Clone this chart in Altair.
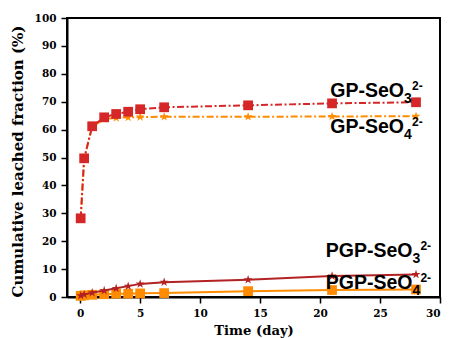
import altair as alt
import pandas as pd

# ---- data ----
days = [0.04, 0.33, 1, 2, 3, 4, 5, 7, 14, 21, 28]
gp_seo3 = [28.2, 49.7, 61.2, 64.4, 65.6, 66.4, 67.3, 68.0, 68.7, 69.4, 69.8]
gp_seo4 = [28.0, 49.5, 61.0, 63.8, 64.2, 64.4, 64.5, 64.6, 64.6, 64.7, 64.8]
pgp_seo3 = [0.5, 0.9, 1.5, 2.3, 3.1, 3.9, 4.7, 5.3, 6.2, 7.5, 8.1]
pgp_seo4 = [0.4, 0.6, 0.8, 1.0, 1.2, 1.2, 1.3, 1.4, 2.1, 2.5, 2.7]

series_names = ["GP-SeO3", "GP-SeO4", "PGP-SeO3", "PGP-SeO4"]
series_values = [gp_seo3, gp_seo4, pgp_seo3, pgp_seo4]

x_ticks = [0, 5, 10, 15, 20, 25, 30]
y_ticks = [0, 10, 20, 30, 40, 50, 60, 70, 80, 90, 100]

# annotation labels (main text, subscript, superscript)
label_main = ["GP-SeO", "GP-SeO", "PGP-SeO", "PGP-SeO"]
label_sub = ["3", "4", "3", "4"]
label_sup = ["2-", "2-", "2-", "2-"]
label_x = [27.0, 27.0, 27.7, 27.7]
label_y = [71.8, 58.7, 14.2, 2.9]

rows = []
for name, vals in zip(series_names, series_values):
    for d, v in zip(days, vals):
        rows.append({"series": name, "day": d, "value": v})
df = pd.DataFrame(rows)

labels = pd.DataFrame({"main": label_main, "sub": label_sub, "sup": label_sup,
                       "day": label_x, "value": label_y})

STAR = ("M0,-1L0.2234,-0.3074L0.9511,-0.309L0.3614,0.1174L0.5878,0.809L0,0.38"
        "L-0.5878,0.809L-0.3614,0.1174L-0.9511,-0.309L-0.2234,-0.3074Z")

x_enc = alt.X("day:Q",
              scale=alt.Scale(domain=[-1.1, 30], nice=False, zero=False),
              axis=alt.Axis(values=x_ticks, title="Time (day)", format="d", labelOverlap=False,
                            titleFontSize=13.2, titlePadding=6))
y_enc = alt.Y("value:Q",
              scale=alt.Scale(domain=[0, 100], nice=False),
              axis=alt.Axis(values=y_ticks, title="Cumulative leached fraction (%)", format="d",
                            labelOverlap=False, titleFontSize=15, titlePadding=9, titleY=143))

styles = {
    "GP-SeO4": dict(color="#ff8c00", shape=STAR, size=90, dash=[7, 2.5, 2, 2.5]),
    "GP-SeO3": dict(color="#d62728", shape="square", size=95, dash=[7, 2.5, 2, 2.5]),
    "PGP-SeO4": dict(color="#ff8c00", shape="square", size=95, dash=None),
    "PGP-SeO3": dict(color="#b22222", shape=STAR, size=90, dash=None),
}

layers = []
for name in ["GP-SeO4", "GP-SeO3", "PGP-SeO4", "PGP-SeO3"]:
    st = styles[name]
    base = alt.Chart(df).transform_filter(alt.datum.series == name)
    line_kwargs = dict(color=st["color"], strokeWidth=2, clip=False)
    if st["dash"] is not None:
        line_kwargs["strokeDash"] = st["dash"]
    layers.append(base.mark_line(**line_kwargs).encode(x=x_enc, y=y_enc))
    layers.append(base.mark_point(filled=True, shape=st["shape"], size=st["size"],
                                  color=st["color"], opacity=1, clip=False)
                  .encode(x=x_enc, y=y_enc))

lab = alt.Chart(labels)
txt_common = dict(font="Liberation Sans", fontWeight="bold", color="black", baseline="alphabetic")
layers.append(lab.mark_text(align="right", fontSize=19.5, **txt_common)
              .encode(x=x_enc, y=y_enc, text="main:N"))
layers.append(lab.mark_text(align="left", fontSize=14, dy=6, **txt_common)
              .encode(x=x_enc, y=y_enc, text="sub:N"))
layers.append(lab.mark_text(align="left", fontSize=12, dx=8, dy=-7, **txt_common)
              .encode(x=x_enc, y=y_enc, text="sup:N"))

chart = alt.layer(*layers).properties(
    width=373, height=279,
    autosize=alt.AutoSizeParams(type="none"),
    padding={"left": 59, "top": 10, "right": 2, "bottom": 44},
    background="white",
).configure_view(
    stroke="black", strokeWidth=2
).configure_axis(
    grid=False,
    domainColor="black", domainWidth=2,
    tickColor="black", tickWidth=1.5, tickSize=6,
    labelFont="DejaVu Serif", labelFontWeight="bold", labelFontSize=10.5,
    labelColor="black", labelPadding=5,
    titleFont="DejaVu Serif", titleFontWeight="bold",
    titleColor="black",
)

chart.save("out.html", embed_options={"renderer": "svg", "actions": False})
